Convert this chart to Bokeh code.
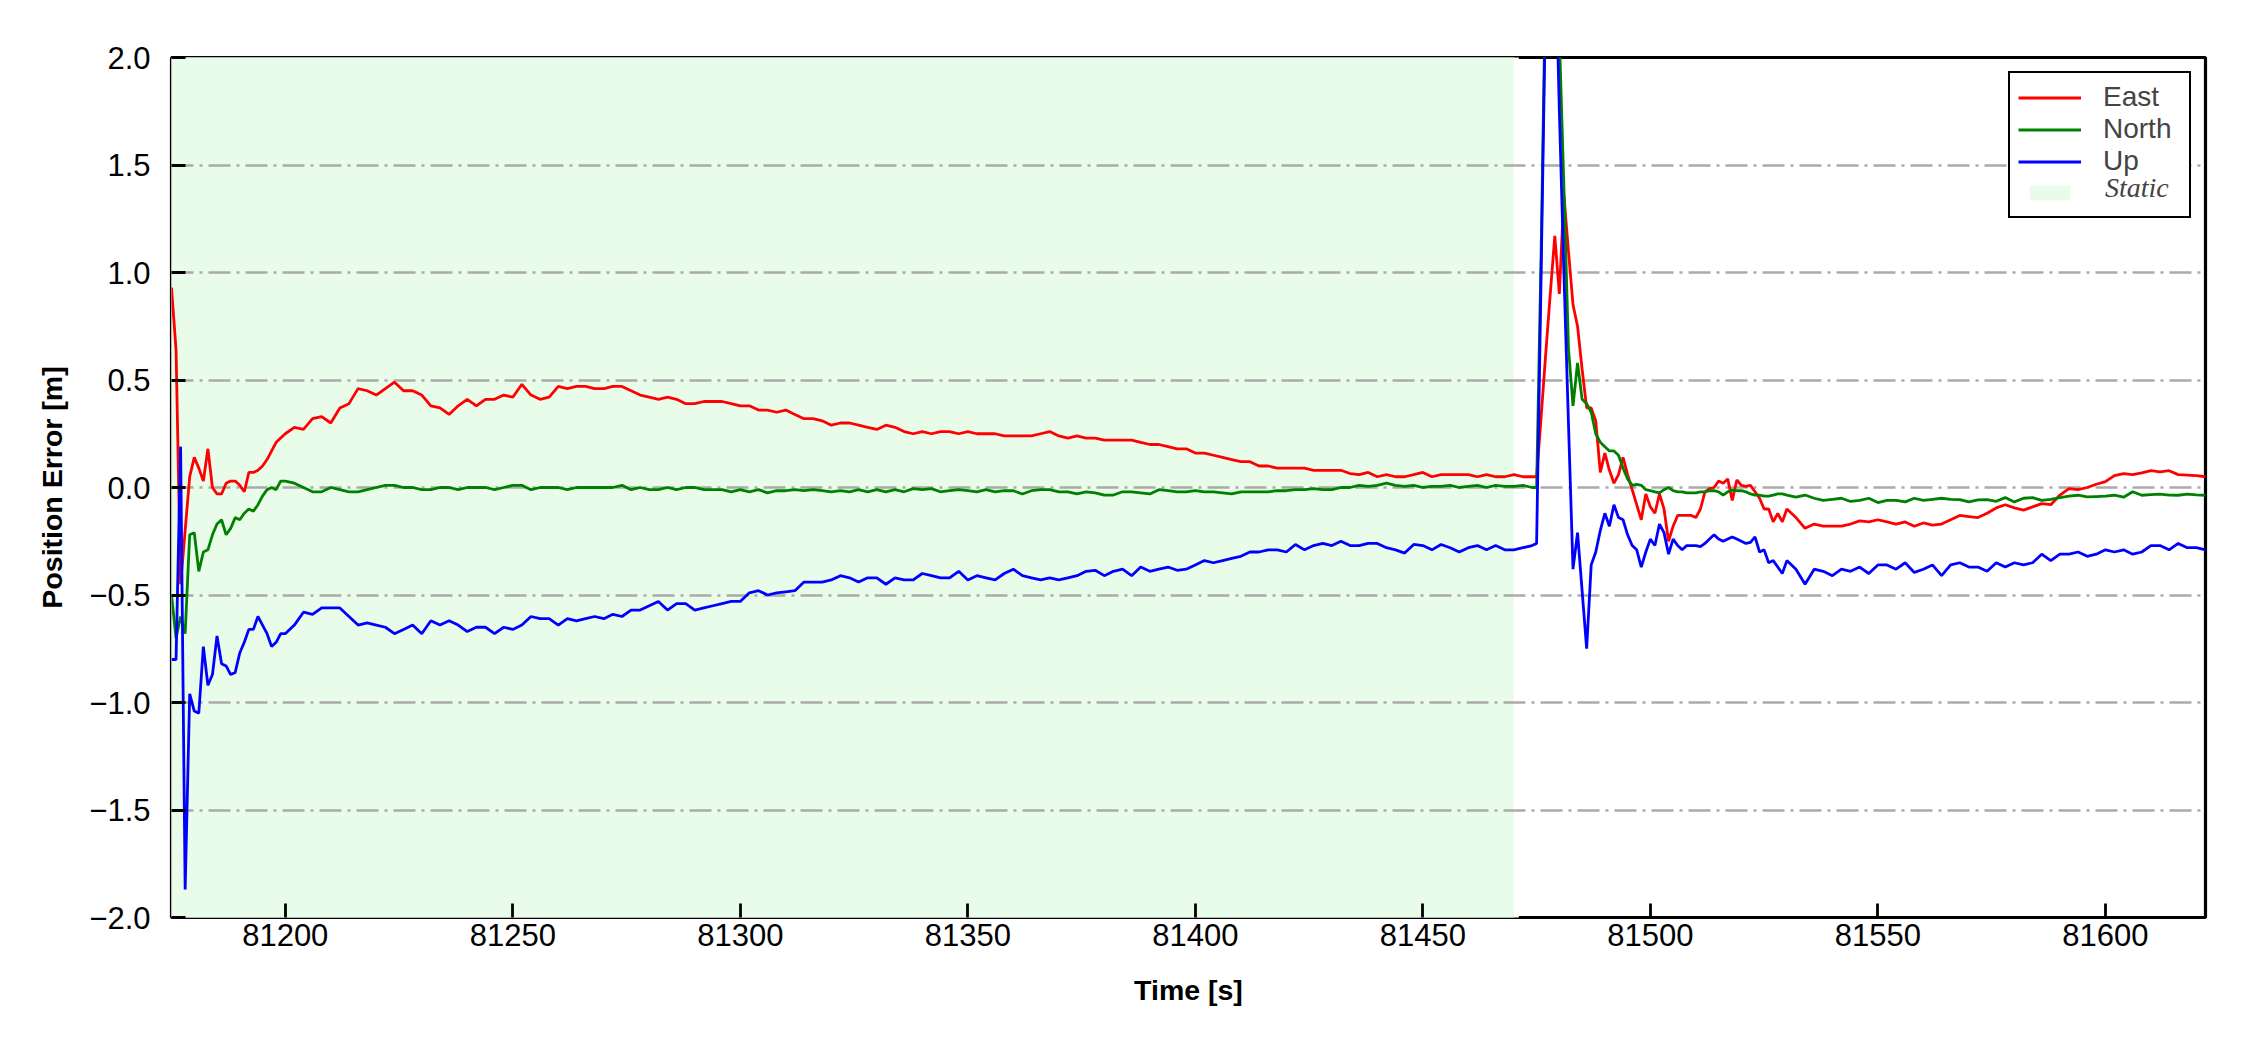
from bokeh.plotting import figure
from bokeh.models import (ColumnDataSource, Range1d, FixedTicker, CustomJSTickFormatter,
                          NumeralTickFormatter, Legend, LegendItem)
from bokeh.embed import file_html
from bokeh.resources import INLINE

# ---------------- data ----------------
x_lo, x_hi = 81175, 81622
y_lo, y_hi = -2.0, 2.0
static_start, static_end = 81175, 81470
x_ticks = [81200, 81250, 81300, 81350, 81400, 81450, 81500, 81550, 81600]
y_ticks = [-2.0, -1.5, -1.0, -0.5, 0.0, 0.5, 1.0, 1.5, 2.0]

# time grids (s)
t_seg1 = list(range(81175, 81201))        # 1 s
t_seg2 = list(range(81202, 81473, 2))     # 2 s
t_seg3 = list(range(81474, 81530))        # 1 s
t_seg4 = list(range(81530, 81623, 2))     # 2 s

east_1 = [0.93, 0.64, -0.45, -0.20, 0.05, 0.14, 0.09, 0.03, 0.18, 0.00,
          -0.03, -0.03, 0.02, 0.03, 0.03, 0.01, -0.02, 0.07, 0.07, 0.08,
          0.10, 0.13, 0.17, 0.21, 0.23, 0.25]
north_1 = [-0.50, -0.70, -0.60, -0.68, -0.22, -0.21, -0.39, -0.30, -0.29, -0.22,
           -0.17, -0.15, -0.22, -0.19, -0.14, -0.15, -0.12, -0.10, -0.11, -0.08,
           -0.04, -0.01, 0.00, -0.01, 0.03, 0.03]
up_1 = [-0.80, -0.80, 0.19, -1.87, -0.96, -1.04, -1.05, -0.74, -0.92, -0.87,
        -0.69, -0.82, -0.83, -0.87, -0.86, -0.77, -0.72, -0.66, -0.66, -0.60,
        -0.64, -0.68, -0.74, -0.72, -0.68, -0.68]

east_2 = [0.28, 0.27, 0.32, 0.33, 0.30, 0.37, 0.39, 0.46, 0.45, 0.43,
          0.46, 0.49, 0.45, 0.45, 0.43, 0.38, 0.37, 0.34, 0.38, 0.41,
          0.38, 0.41, 0.41, 0.43, 0.42, 0.48, 0.43, 0.41, 0.42, 0.47,
          0.46, 0.47, 0.47, 0.46, 0.46, 0.47, 0.47, 0.45, 0.43, 0.42,
          0.41, 0.42, 0.41, 0.39, 0.39, 0.40, 0.40, 0.40, 0.39, 0.38,
          0.38, 0.36, 0.36, 0.35, 0.36, 0.34, 0.32, 0.32, 0.31, 0.29,
          0.30, 0.30, 0.29, 0.28, 0.27, 0.29, 0.28, 0.26, 0.25, 0.26,
          0.25, 0.26, 0.26, 0.25, 0.26, 0.25, 0.25, 0.25, 0.24, 0.24,
          0.24, 0.24, 0.25, 0.26, 0.24, 0.23, 0.24, 0.23, 0.23, 0.22,
          0.22, 0.22, 0.22, 0.21, 0.20, 0.20, 0.19, 0.18, 0.18, 0.16,
          0.16, 0.15, 0.14, 0.13, 0.12, 0.12, 0.10, 0.10, 0.09, 0.09,
          0.09, 0.09, 0.08, 0.08, 0.08, 0.08, 0.065, 0.06, 0.07, 0.05,
          0.06, 0.05, 0.05, 0.06, 0.07, 0.05, 0.06, 0.06, 0.06, 0.06,
          0.05, 0.06, 0.05, 0.05, 0.06, 0.05]
north_2 = [0.02, 0.00, -0.02, -0.02, 0.00, -0.01, -0.02, -0.02, -0.01, 0.00,
           0.01, 0.01, 0.00, 0.00, -0.01, -0.01, 0.00, 0.00, -0.01, 0.00,
           0.00, 0.00, -0.01, 0.00, 0.01, 0.01, -0.01, 0.00, 0.00, 0.00,
           -0.01, 0.00, 0.00, 0.00, 0.00, 0.00, 0.01, -0.01, 0.00, -0.01,
           -0.01, 0.00, -0.01, 0.00, 0.00, -0.01, -0.01, -0.01, -0.02, -0.01,
           -0.02, -0.01, -0.025, -0.015, -0.015, -0.01, -0.015, -0.01, -0.015, -0.02,
           -0.015, -0.02, -0.01, -0.02, -0.01, -0.02, -0.01, -0.02, -0.005, -0.01,
           -0.005, -0.02, -0.015, -0.01, -0.015, -0.02, -0.01, -0.02, -0.015, -0.015,
           -0.03, -0.015, -0.01, -0.01, -0.02, -0.02, -0.03, -0.02, -0.025, -0.035,
           -0.035, -0.02, -0.02, -0.025, -0.03, -0.01, -0.015, -0.02, -0.02, -0.015,
           -0.02, -0.02, -0.025, -0.03, -0.02, -0.02, -0.02, -0.02, -0.015, -0.015,
           -0.01, -0.01, -0.005, -0.01, -0.01, 0.00, 0.00, 0.01, 0.005, 0.01,
           0.02, 0.01, 0.005, 0.01, 0.00, 0.005, 0.005, 0.01, 0.00, 0.005,
           0.01, 0.00, 0.01, 0.005, 0.005, 0.01]
up_2 = [-0.64, -0.58, -0.59, -0.56, -0.56, -0.56, -0.60, -0.64, -0.63, -0.64,
        -0.65, -0.68, -0.66, -0.64, -0.68, -0.62, -0.64, -0.62, -0.64, -0.67,
        -0.65, -0.65, -0.68, -0.65, -0.66, -0.64, -0.60, -0.61, -0.61, -0.64,
        -0.61, -0.62, -0.61, -0.60, -0.61, -0.59, -0.60, -0.57, -0.57, -0.55,
        -0.53, -0.57, -0.54, -0.54, -0.57, -0.56, -0.55, -0.54, -0.53, -0.53,
        -0.49, -0.48, -0.50, -0.49, -0.485, -0.48, -0.44, -0.44, -0.44, -0.43,
        -0.41, -0.42, -0.44, -0.42, -0.42, -0.45, -0.42, -0.43, -0.43, -0.40,
        -0.41, -0.42, -0.42, -0.39, -0.43, -0.41, -0.42, -0.43, -0.40, -0.38,
        -0.41, -0.42, -0.43, -0.42, -0.43, -0.42, -0.41, -0.39, -0.385, -0.41,
        -0.39, -0.38, -0.41, -0.37, -0.39, -0.38, -0.37, -0.385, -0.38, -0.36,
        -0.34, -0.35, -0.34, -0.33, -0.32, -0.30, -0.30, -0.29, -0.29, -0.30,
        -0.265, -0.29, -0.27, -0.26, -0.27, -0.25, -0.27, -0.27, -0.26, -0.26,
        -0.28, -0.29, -0.305, -0.265, -0.27, -0.29, -0.265, -0.28, -0.30, -0.28,
        -0.27, -0.29, -0.27, -0.29, -0.29, -0.28]

east_3 = [0.05, 0.05, 0.33, 0.62, 0.90, 1.17, 0.90, 1.36, 1.10, 0.85,
          0.75, 0.55, 0.37, 0.37, 0.31, 0.07, 0.16, 0.08, 0.02, 0.06,
          0.14, 0.06, -0.01, -0.08, -0.15, -0.03, -0.09, -0.12, -0.03, -0.10,
          -0.25, -0.18, -0.13, -0.13, -0.13, -0.13, -0.14, -0.10, -0.02, -0.005,
          0.00, 0.03, 0.02, 0.04, -0.06, 0.035, 0.01, 0.005, 0.01, -0.02,
          -0.05, -0.10, -0.10, -0.16, -0.12, -0.16]
north_3 = [0.00, 0.00, 1.10, 2.40, 3.00, 2.90, 2.10, 1.40, 0.65, 0.38,
           0.58, 0.41, 0.39, 0.35, 0.25, 0.21, 0.19, 0.17, 0.17, 0.15,
           0.09, 0.04, 0.01, 0.015, 0.01, -0.01, -0.015, -0.02, -0.025, -0.01,
           0.00, -0.015, -0.02, -0.02, -0.025, -0.025, -0.025, -0.02, -0.02, -0.015,
           -0.015, -0.02, -0.035, -0.02, -0.012, -0.015, -0.015, -0.02, -0.03, -0.035,
           -0.035, -0.04, -0.04, -0.035, -0.03, -0.03]
up_3 = [-0.27, -0.26, 1.00, 2.30, 3.00, 2.60, 1.75, 1.00, 0.30, -0.38,
        -0.21, -0.48, -0.75, -0.36, -0.30, -0.20, -0.12, -0.18, -0.08, -0.14,
        -0.15, -0.22, -0.27, -0.29, -0.37, -0.30, -0.24, -0.27, -0.17, -0.21,
        -0.31, -0.24, -0.27, -0.29, -0.27, -0.27, -0.27, -0.275, -0.26, -0.24,
        -0.22, -0.24, -0.25, -0.24, -0.23, -0.24, -0.25, -0.26, -0.255, -0.23,
        -0.30, -0.29, -0.35, -0.34, -0.37, -0.40]

east_4 = [-0.10, -0.14, -0.19, -0.17, -0.18, -0.18, -0.18, -0.17, -0.155, -0.16,
          -0.15, -0.16, -0.17, -0.16, -0.18, -0.165, -0.175, -0.17, -0.15, -0.13,
          -0.135, -0.14, -0.12, -0.095, -0.08, -0.095, -0.105, -0.09, -0.075, -0.08,
          -0.035, -0.005, -0.01, 0.00, 0.015, 0.027, 0.055, 0.065, 0.06, 0.068,
          0.078, 0.073, 0.078, 0.06, 0.058, 0.055, 0.05]
north_4 = [-0.035, -0.045, -0.035, -0.05, -0.06, -0.055, -0.05, -0.065, -0.06, -0.05,
           -0.07, -0.06, -0.06, -0.067, -0.05, -0.06, -0.055, -0.05, -0.055, -0.056,
           -0.067, -0.058, -0.056, -0.064, -0.047, -0.067, -0.05, -0.047, -0.06, -0.055,
           -0.047, -0.04, -0.036, -0.044, -0.042, -0.04, -0.036, -0.045, -0.02, -0.036,
           -0.033, -0.031, -0.035, -0.036, -0.031, -0.034, -0.036]
up_4 = [-0.34, -0.38, -0.45, -0.38, -0.39, -0.41, -0.38, -0.39, -0.37, -0.40,
        -0.36, -0.36, -0.38, -0.35, -0.395, -0.38, -0.36, -0.41, -0.36, -0.35,
        -0.37, -0.37, -0.39, -0.35, -0.37, -0.35, -0.36, -0.35, -0.31, -0.34,
        -0.31, -0.31, -0.30, -0.32, -0.31, -0.29, -0.30, -0.29, -0.31, -0.30,
        -0.27, -0.27, -0.29, -0.26, -0.28, -0.28, -0.29]

t = t_seg1 + t_seg2 + t_seg3 + t_seg4
east = east_1 + east_2 + east_3 + east_4
north = north_1 + north_2 + north_3 + north_4
up = up_1 + up_2 + up_3 + up_4
n = min(len(t), len(east), len(north), len(up))
src = ColumnDataSource(dict(t=t[:n], east=east[:n], north=north[:n], up=up[:n]))
static_src = ColumnDataSource(dict(left=[static_start], right=[static_end],
                                   bottom=[y_lo], top=[y_hi]))

static_color = "#e9fce9"
FONT = "Liberation Sans"

# ---------------- figure ----------------
p = figure(width=2232, height=1030, output_backend="svg", toolbar_location=None,
           x_range=Range1d(x_lo, x_hi), y_range=Range1d(y_lo, y_hi),
           min_border_left=171, min_border_right=27, min_border_top=57,
           min_border_bottom=113)
p.background_fill_color = "white"
p.border_fill_color = "white"
p.outline_line_color = "black"
p.outline_line_width = 3.2

# legend proxy (white rim makes the legend patch smaller), then the actual shading
proxy = p.quad(left="left", right="right", bottom="bottom", top="top", source=static_src,
               fill_color=static_color, line_color="white", line_width=10, level="image")
shade = p.quad(left="left", right="right", bottom="bottom", top="top", source=static_src,
               fill_color=static_color, line_color=None, level="image")

r_e = p.line("t", "east", source=src, line_color="#ff0000", line_width=2.8)
r_n = p.line("t", "north", source=src, line_color="#008000", line_width=2.8)
r_u = p.line("t", "up", source=src, line_color="#0000ff", line_width=2.8)
ghost = p.line("t", "east", source=src, line_alpha=0.0)

p.xgrid.visible = False
p.ygrid.grid_line_color = "#aaaaaa"
p.ygrid.grid_line_width = 2.6
p.ygrid.grid_line_dash = "22 6 3 6"

p.xaxis.ticker = FixedTicker(ticks=x_ticks)
p.yaxis.ticker = FixedTicker(ticks=y_ticks)
p.xaxis.formatter = NumeralTickFormatter(format="0")
p.yaxis.formatter = CustomJSTickFormatter(
    code="return (tick < 0 ? '\u2212' : '') + Math.abs(tick).toFixed(1);")

for ax in (p.xaxis[0], p.yaxis[0]):
    ax.axis_line_color = None
    ax.major_tick_in = 14
    ax.major_tick_out = 0
    ax.major_tick_line_width = 2.8
    ax.major_tick_line_color = "black"
    ax.minor_tick_line_color = None
    ax.major_label_text_font = FONT
    ax.major_label_text_font_size = "31px"
    ax.major_label_text_color = "black"
    ax.axis_label_text_font = FONT
    ax.axis_label_text_font_size = "28.5px"
    ax.axis_label_text_font_style = "bold"
    ax.axis_label_text_color = "black"

p.xaxis.axis_label = "Time [s]"
p.yaxis.axis_label = "Position Error [m]"
p.xaxis.major_label_standoff = 6
p.xaxis.axis_label_standoff = 25
p.yaxis.major_label_standoff = 21
p.yaxis.axis_label_standoff = 18

common = dict(location="top_right", margin=14, padding=8, spacing=0,
              glyph_width=63, glyph_height=31, label_height=31, label_width=78,
              label_standoff=22, label_text_font_size="28px")

legA = Legend(items=[LegendItem(label="East", renderers=[r_e]),
                     LegendItem(label="North", renderers=[r_n]),
                     LegendItem(label="Up", renderers=[r_u]),
                     LegendItem(label=" ", renderers=[proxy])],
              label_text_font=FONT, border_line_color="black", border_line_width=2.5,
              border_line_alpha=1.0,
              background_fill_color="white", background_fill_alpha=1.0, **common)
legB = Legend(items=[LegendItem(label=" ", renderers=[ghost]),
                     LegendItem(label=" ", renderers=[ghost]),
                     LegendItem(label=" ", renderers=[ghost]),
                     LegendItem(label="Static", renderers=[ghost])],
              label_text_font="Liberation Serif", label_text_font_style="italic",
              border_line_alpha=0.0, background_fill_alpha=0.0, **common)
p.add_layout(legA)
p.add_layout(legB)

open("out.html", "w").write(file_html(p, INLINE))
